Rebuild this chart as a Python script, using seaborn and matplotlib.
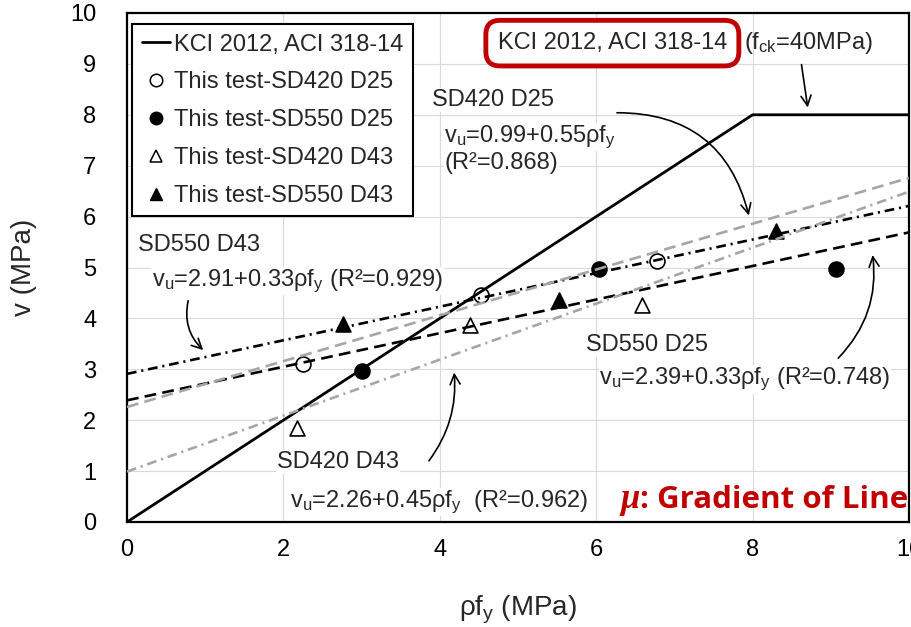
import matplotlib
matplotlib.use("Agg")
import matplotlib.pyplot as plt
from matplotlib.lines import Line2D
import numpy as np
import pandas as pd
import seaborn as sns

# Test results: rho*f_y (MPa) against shear stress v (MPa)
sd420_d25_x = [2.25, 4.53, 6.78]
sd420_d25_y = [3.10, 4.46, 5.13]
sd550_d25_x = [3.01, 6.04, 9.07]
sd550_d25_y = [2.97, 4.97, 4.97]
sd420_d43_x = [2.18, 4.38, 6.58]
sd420_d43_y = [1.85, 3.87, 4.26]
sd550_d43_x = [2.76, 5.53, 8.30]
sd550_d43_y = [3.89, 4.36, 5.72]

# KCI 2012 / ACI 318-14 limit (fck = 40 MPa)
code_x = [0, 8, 10]
code_y = [0, 8, 8]

# Regression lines v_u = a + b * rho f_y
fit_intercepts = [2.91, 2.39, 2.26, 0.99]
fit_slopes = [0.33, 0.33, 0.45, 0.55]
fit_colors = ["black", "black", "#a6a6a6", "#a6a6a6"]
fit_styles = [(0, (7, 3.5, 1.5, 3.5)), (0, (8.5, 4.5)),
              (0, (8.5, 4.5)), (0, (7, 3.5, 1.5, 3.5))]

x_ticks = [0, 2, 4, 6, 8, 10]
y_ticks = list(range(0, 11))

sns.set_theme(style="white")
plt.rcParams["font.family"] = ["Liberation Sans", "DejaVu Sans"]
plt.rcParams["mathtext.fontset"] = "custom"
plt.rcParams["mathtext.rm"] = "Liberation Sans"
plt.rcParams["mathtext.it"] = "Liberation Sans:italic"
plt.rcParams["lines.scale_dashes"] = False

fig = plt.figure(figsize=(9.12, 6.27), dpi=100)
ax = fig.add_axes([127 / 912, 105 / 627, 782 / 912, 509 / 627])

# grid
ax.set_axisbelow(True)
ax.grid(True, color="#d9d9d9", linewidth=0.8)
ax.set_xlim(0, 10)
ax.set_ylim(0, 10)
ax.set_xticks(x_ticks)
ax.set_yticks(y_ticks)
ax.tick_params(axis="both", length=0, labelsize=17, colors="black")
ax.tick_params(axis="y", pad=22)
ax.tick_params(axis="x", pad=12)
for s in ax.spines.values():
    s.set_color("black")
    s.set_linewidth(1.6)

# test points
msize = 115
pts = [
    (sd420_d25_x, sd420_d25_y, "o", "white"),
    (sd550_d25_x, sd550_d25_y, "o", "black"),
    (sd420_d43_x, sd420_d43_y, "^", "white"),
    (sd550_d43_x, sd550_d43_y, "^", "black"),
]
for xs, ys, mk, fc in pts:
    sns.scatterplot(x=xs, y=ys, marker=mk, s=msize, color=fc,
                    edgecolor="black", linewidth=1.2, ax=ax, zorder=3)

# code limit
sns.lineplot(x=code_x, y=code_y, color="black", linewidth=2.0, ax=ax,
             zorder=4, estimator=None, sort=False)

# regression lines
xr = np.array([0.0, 10.0])
for a, b, c, ls in zip(fit_intercepts, fit_slopes, fit_colors, fit_styles):
    df = pd.DataFrame({"x": xr, "y": a + b * xr})
    sns.lineplot(data=df, x="x", y="y", color=c, linewidth=1.9, ax=ax,
                 zorder=4, estimator=None, linestyle=ls)

ax.set_xlabel(r"ρf$_\mathregular{y}$ (MPa)", fontsize=20, labelpad=24)
ax.set_ylabel("v (MPa)", fontsize=20, labelpad=24)

# legend
handles = [
    Line2D([], [], color="black", linewidth=2.0),
    Line2D([], [], marker="o", linestyle="none", markersize=9,
           markerfacecolor="white", markeredgecolor="black", markeredgewidth=1.1),
    Line2D([], [], marker="o", linestyle="none", markersize=9,
           markerfacecolor="black", markeredgecolor="black"),
    Line2D([], [], marker="^", linestyle="none", markersize=9,
           markerfacecolor="white", markeredgecolor="black", markeredgewidth=1.1),
    Line2D([], [], marker="^", linestyle="none", markersize=9,
           markerfacecolor="black", markeredgecolor="black"),
]
labels = ["KCI 2012, ACI 318-14", "This test-SD420 D25", "This test-SD550 D25",
          "This test-SD420 D43", "This test-SD550 D43"]
leg = ax.legend(handles, labels, loc="upper left", bbox_to_anchor=(0.007, 0.978),
                borderaxespad=0, fontsize=17, frameon=True, fancybox=False,
                handlelength=1.2, handletextpad=0.15, labelspacing=0.67,
                borderpad=0.4)
leg.get_frame().set_edgecolor("black")
leg.get_frame().set_linewidth(1.5)
leg.get_frame().set_alpha(1)
leg.set_zorder(6)

wb = dict(facecolor="white", edgecolor="none", pad=0.5)
fs = 17

def note(x, y, s):
    ax.text(x, y, s, fontsize=fs, ha="left", va="baseline", bbox=wb, zorder=5)

vu = r"v$_\mathregular{u}$="
fy = r"ρf$_\mathregular{y}$"

note(3.90, 8.17, "SD420 D25")
note(4.06, 7.47, vu + "0.99+0.55" + fy)
note(4.06, 6.93, "(R²=0.868)")

note(0.14, 5.32, "SD550 D43")
note(0.32, 4.64, vu + "2.91+0.33" + fy + " (R²=0.929)")

note(5.87, 3.36, "SD550 D25")
note(6.04, 2.71, vu + "2.39+0.33" + fy + " (R²=0.748)")

note(1.92, 1.06, "SD420 D43")
note(2.08, 0.30, vu + "2.26+0.45" + fy + "  (R²=0.962)")

# code label with highlighted frame
ax.text(4.74, 9.29, "KCI 2012, ACI 318-14", fontsize=fs, ha="left", va="baseline",
        zorder=5,
        bbox=dict(boxstyle="round,pad=0.5,rounding_size=0.6", facecolor="white",
                  edgecolor="#c00000", linewidth=3.5))
ax.text(7.89, 9.29, r"(f$_\mathregular{ck}$=40MPa)", fontsize=fs, ha="left",
        va="baseline", zorder=5)

# gradient note
ax.text(6.56, 0.28, "μ", fontsize=25, ha="right", va="baseline", color="#c00000",
        family="Liberation Serif", style="italic", weight="bold", zorder=5)
ax.text(6.56, 0.28, ": Gradient of Line", fontsize=22.5, ha="left", va="baseline",
        color="#c00000", family=["Open Sans", "DejaVu Sans"], weight="bold",
        zorder=5)

# arrows
ap = dict(arrowstyle="->,head_length=0.6,head_width=0.3", color="black", lw=1.2)
ax.annotate("", xy=(8.71, 8.09), xytext=(8.62, 9.04),
            arrowprops=dict(ap, connectionstyle="arc3,rad=0"), zorder=5)
ax.annotate("", xy=(7.96, 5.97), xytext=(6.23, 8.04),
            arrowprops=dict(ap, connectionstyle="arc3,rad=-0.4"), zorder=5)
ax.annotate("", xy=(1.00, 3.34), xytext=(0.79, 4.40),
            arrowprops=dict(ap, connectionstyle="arc3,rad=0.3"), zorder=5)
ax.annotate("", xy=(9.53, 5.30), xytext=(9.07, 3.18),
            arrowprops=dict(ap, connectionstyle="arc3,rad=0.25"), zorder=5)
ax.annotate("", xy=(4.18, 2.99), xytext=(3.84, 1.16),
            arrowprops=dict(ap, connectionstyle="arc3,rad=0.2"), zorder=5)

fig.savefig("out.png", dpi=100)
